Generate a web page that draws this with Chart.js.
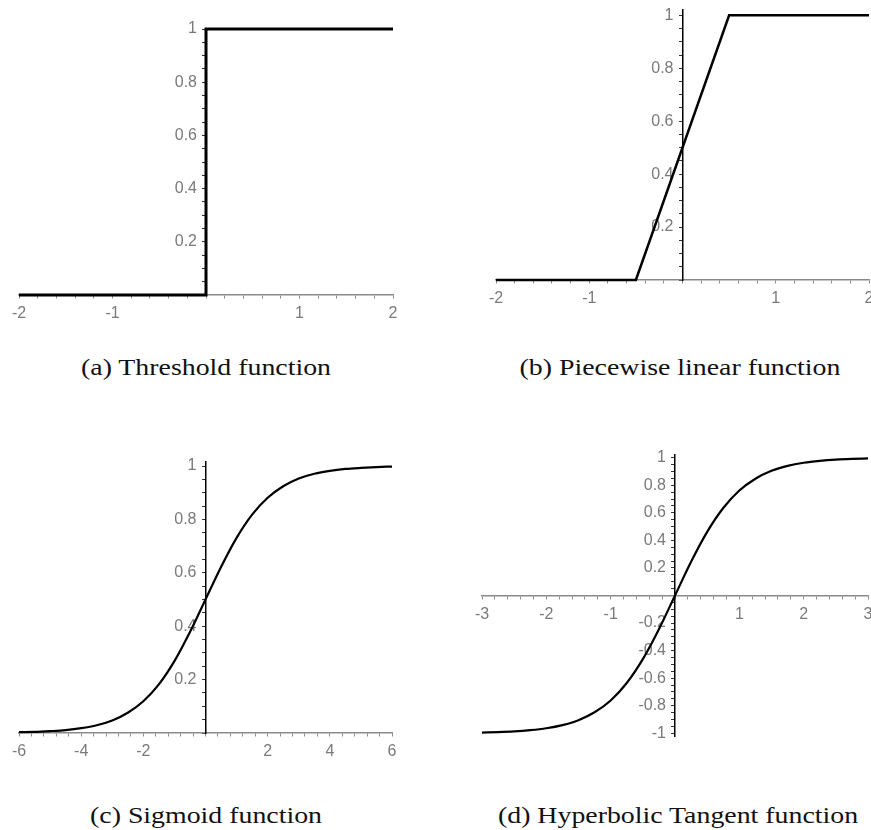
<!DOCTYPE html>
<html lang="en">
<head>
  <meta charset="UTF-8">
  <title>Activation functions</title>
  <style>
    html, body {
      margin: 0;
      padding: 0;
      background: #fff;
      overflow: hidden;
    }
    body {
      position: relative;
      width: 871px;
      height: 830px;
    }
    canvas {
      position: absolute;
    }
    .caption {
      position: absolute;
      font-family: "Liberation Serif", serif;
      font-size: 24px;
      color: #111;
      white-space: nowrap;
      transform: translate(-50%, -50%) scaleX(1.16);
    }
  </style>
  <script src="https://cdn.jsdelivr.net/npm/chart.js"></script>
</head>
<body>

  <canvas id="chartA"></canvas>
  <canvas id="chartB"></canvas>
  <canvas id="chartC"></canvas>
  <canvas id="chartD"></canvas>

  <div class="caption" style="left:206px; top:367px;">(a) Threshold function</div>
  <div class="caption" style="left:680px; top:367px;">(b) Piecewise linear function</div>
  <div class="caption" style="left:206px; top:815px;">(c) Sigmoid function</div>
  <div class="caption" style="left:678px; top:815px;">(d) Hyperbolic Tangent function</div>

  <script>
    // (a) threshold
    var xA = [-2, 0, 0, 2];
    var yA = [0, 0, 1, 1];
    var xTicksA = [-2, -1, 1, 2];
    var yTicksA = [0.2, 0.4, 0.6, 0.8, 1];

    // (b) piecewise linear
    var xB = [-2, -0.5, 0.5, 2];
    var yB = [0, 0, 1, 1];
    var xTicksB = [-2, -1, 1, 2];
    var yTicksB = [0.2, 0.4, 0.6, 0.8, 1];

    // (c) sigmoid
    var xC = [-6, -5.5, -5, -4.5, -4, -3.5, -3, -2.5, -2, -1.5, -1, -0.5, 0,
              0.5, 1, 1.5, 2, 2.5, 3, 3.5, 4, 4.5, 5, 5.5, 6];
    var yC = [0.003, 0.004, 0.007, 0.011, 0.018, 0.029, 0.047, 0.076, 0.119, 0.182, 0.269, 0.378, 0.5,
              0.622, 0.731, 0.818, 0.881, 0.924, 0.953, 0.971, 0.982, 0.989, 0.993, 0.996, 0.998];
    var xTicksC = [-6, -4, -2, 2, 4, 6];
    var yTicksC = [0.2, 0.4, 0.6, 0.8, 1];

    // (d) tanh
    var xD = [-3, -2.75, -2.5, -2.25, -2, -1.75, -1.5, -1.25, -1, -0.75, -0.5, -0.25, 0,
              0.25, 0.5, 0.75, 1, 1.25, 1.5, 1.75, 2, 2.25, 2.5, 2.75, 3];
    var yD = [-0.995, -0.992, -0.987, -0.978, -0.964, -0.941, -0.905, -0.848, -0.762, -0.635, -0.462, -0.245, 0,
              0.245, 0.462, 0.635, 0.762, 0.848, 0.905, 0.941, 0.964, 0.978, 0.987, 0.992, 0.995];
    var xTicksD = [-3, -2, -1, 1, 2, 3];
    var yTicksD = [-1, -0.8, -0.6, -0.4, -0.2, 0.2, 0.4, 0.6, 0.8, 1];

    var PAD = { left: 30, right: 20, top: 15, bottom: 35 };
    var labelFont = { family: "Liberation Sans", size: 16 };
    var labelColor = "#7a7a7a";
    var Y_LABEL_GAP = 9; // px between y axis and right edge of its labels

    // tick positions every `step` between min and max (major labels picked by callback)
    function tickList(min, max, step) {
      var out = [];
      for (var k = Math.ceil(min / step - 1e-9); k * step <= max + 1e-9; k++) {
        out.push({ value: Math.round(k * step * 1e6) / 1e6 });
      }
      return out;
    }

    function isMajor(list, v) {
      return list.some(function (t) { return Math.abs(t - v) < 1e-6; });
    }

    function makeChart(id, area, xr, yr, xs, ys, xTicks, yTicks, xStep, yStep, lw, smooth) {
      var canvas = document.getElementById(id);
      canvas.width = area.right - area.left + PAD.left + PAD.right;
      canvas.height = area.bottom - area.top + PAD.top + PAD.bottom;
      canvas.style.left = (area.left - PAD.left) + "px";
      canvas.style.top = (area.top - PAD.top) + "px";

      var points = xs.map(function (x, i) { return { x: x, y: ys[i] }; });
      var pxPerX = (area.right - area.left) / (xr[1] - xr[0]);

      var ds = {
        data: points,
        showLine: true,
        borderColor: "#000",
        borderWidth: lw,
        pointRadius: 0,
        tension: 0,
        fill: false,
        clip: false
      };
      if (smooth) ds.cubicInterpolationMode = "monotone";

      return new Chart(canvas.getContext("2d"), {
        type: "scatter",
        data: { datasets: [ds] },
        options: {
          responsive: false,
          animation: false,
          layout: { padding: PAD },
          plugins: { legend: { display: false }, tooltip: { enabled: false } },
          scales: {
            x: {
              type: "linear",
              min: xr[0],
              max: xr[1],
              position: { y: 0 },
              afterBuildTicks: function (s) { s.ticks = tickList(xr[0], xr[1], xStep); },
              ticks: {
                autoSkip: false,
                maxRotation: 0,
                padding: 6,
                color: labelColor,
                font: labelFont,
                callback: function (v) { return isMajor(xTicks, v) ? String(v) : ""; }
              },
              grid: { drawOnChartArea: false, drawTicks: true, tickLength: 3, color: "#8a8a8a" },
              border: { display: true, color: "#8a8a8a", width: 1.5 }
            },
            // axis line and tick marks at x = 0
            y: {
              type: "linear",
              min: yr[0],
              max: yr[1],
              position: { x: 0 },
              afterBuildTicks: function (s) { s.ticks = tickList(yr[0], yr[1], yStep); },
              ticks: { autoSkip: false, display: false },
              grid: { drawOnChartArea: false, drawTicks: true, tickLength: 3, color: "#333" },
              border: { display: true, color: "#000", width: 1.5 }
            },
            // tick labels, set a few px left of the axis
            yl: {
              type: "linear",
              axis: "y",
              min: yr[0],
              max: yr[1],
              position: { x: -Y_LABEL_GAP / pxPerX },
              afterBuildTicks: function (s) {
                s.ticks = yTicks.map(function (v) { return { value: v }; });
              },
              ticks: {
                autoSkip: false,
                padding: 0,
                color: labelColor,
                font: labelFont,
                callback: function (v) { return String(v); }
              },
              grid: { display: false },
              border: { display: false }
            }
          }
        }
      });
    }

    makeChart("chartA", { left: 19, right: 393, top: 29, bottom: 295 },
      [-2, 2], [0, 1], xA, yA, xTicksA, yTicksA, 0.2, 0.05, 3, false);
    makeChart("chartB", { left: 496, right: 869, top: 10, bottom: 280 },
      [-2, 2], [0, 1.02], xB, yB, xTicksB, yTicksB, 0.2, 0.05, 2.5, false);
    makeChart("chartC", { left: 19, right: 392, top: 462, bottom: 733 },
      [-6, 6], [0, 1.015], xC, yC, xTicksC, yTicksC, 0.4, 0.05, 2.2, true);
    makeChart("chartD", { left: 482, right: 868, top: 455, bottom: 736 },
      [-3, 3], [-1.02, 1.02], xD, yD, xTicksD, yTicksD, 0.2, 0.05, 2.2, true);
  </script>

</body>
</html>
